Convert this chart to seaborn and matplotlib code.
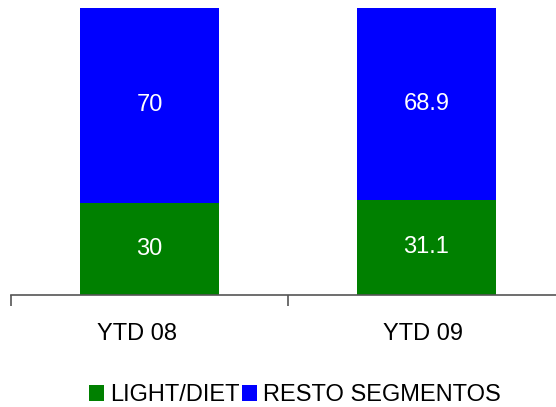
import matplotlib
matplotlib.use("Agg")
import matplotlib.pyplot as plt
import seaborn as sns
import pandas as pd
from matplotlib.patches import Patch
from matplotlib.transforms import ScaledTranslation

categories = ["YTD 08", "YTD 09"]
light_diet = [30, 31.1]
resto = [70, 68.9]
series_names = ["LIGHT/DIET", "RESTO SEGMENTOS"]
colors = ["#008000", "#0000FF"]

sns.set_theme(style="white")
plt.rcParams['font.family'] = ['Liberation Sans', 'DejaVu Sans']
plt.rcParams['text.color'] = 'black'
plt.rcParams['xtick.color'] = 'black'

df = pd.DataFrame({"cat": categories, "light": light_diet, "resto": resto})
df["total"] = df["light"] + df["resto"]

fig = plt.figure(figsize=(5.56, 4.07), dpi=100)
W, H = 556, 407
ax = fig.add_axes([11 / W, (H - 295) / H, 554 / W, 287 / H])

sns.barplot(data=df, x="cat", y="total", color=colors[1], width=0.5,
            saturation=1, ax=ax, edgecolor="none")
sns.barplot(data=df, x="cat", y="light", color=colors[0], width=0.5,
            saturation=1, ax=ax, edgecolor="none")

ymax = 93.5
ax.set_ylim(0, ymax)
ax.set_xlim(-0.5, 1.5)

for i, (g, b) in enumerate(zip(light_diet, resto)):
    ax.text(i, g / 2, f"{g:g}", ha="center", va="center", color="white", fontsize=17)
    top = min(g + b, ymax)
    ax.text(i, (g + top) / 2, f"{b:g}", ha="center", va="center", color="white", fontsize=17)

for s in ["top", "right", "left"]:
    ax.spines[s].set_visible(False)
ax.spines["bottom"].set_color("#555555")
ax.spines["bottom"].set_linewidth(1.2)
ax.set_yticks([])
ax.set_xticks([-0.5, 0.5, 1.5])
ax.set_xticklabels([])
ax.set_xticks([0, 1], minor=True)
ax.set_xticklabels(categories, minor=True, fontsize=17, color="black")
ax.tick_params(axis="x", which="major", direction="out", length=8, width=1.2, color="#555555", bottom=True)
ax.tick_params(axis="x", which="minor", length=0, pad=20)
ax.set_xlabel("")
ax.set_ylabel("")

# small leftward shift of category labels as in the reference
label_shift_px = [-13, -4]
for lbl, dx in zip(ax.get_xticklabels(minor=True), label_shift_px):
    lbl.set_transform(lbl.get_transform() + ScaledTranslation(dx / 100, 0, fig.dpi_scale_trans))

handles = [Patch(facecolor=c, edgecolor="none") for c in colors]
leg = fig.legend(handles, series_names, loc="center", bbox_to_anchor=(295 / W, (H - 395) / H),
                 ncol=2, frameon=False, fontsize=17, handlelength=0.64, handleheight=0.64,
                 handletextpad=0.25, columnspacing=0.1, borderaxespad=0)
for t in leg.get_texts():
    t.set_color("black")

fig.savefig("out.png", dpi=100)
